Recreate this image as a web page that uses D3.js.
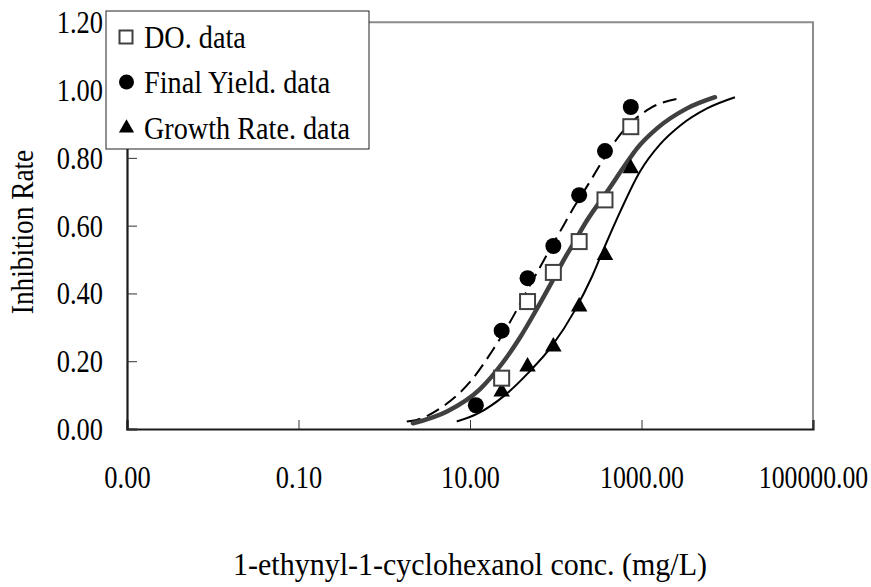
<!DOCTYPE html>
<html>
<head>
<meta charset="utf-8">
<script src="https://cdn.jsdelivr.net/npm/d3@7"></script>
<style>
  html, body { margin: 0; padding: 0; background: #fff; }
  svg { display: block; }
  text { font-family: "Liberation Serif", "Times New Roman", serif; fill: #000; }
</style>
</head>
<body>
<svg id="chart" width="871" height="587"></svg>
<script>
// ---------- data ----------
const xTicks = [0.001, 0.1, 10, 1000, 100000];
const yTicks = [0, 0.2, 0.4, 0.6, 0.8, 1.0, 1.2];

const concFY = [11.7, 23.4, 46.9, 93.75, 187.5, 375, 750];
const finalYield = [0.07, 0.29, 0.445, 0.54, 0.69, 0.82, 0.95];

const concDO = [23.4, 46.9, 93.75, 187.5, 375, 750];
const doData = [0.15, 0.376, 0.462, 0.553, 0.676, 0.892];

const concGR = [23.4, 46.9, 93.75, 187.5, 375, 750];
const growthRate = [0.11, 0.184, 0.243, 0.361, 0.513, 0.769];

// fitted curves
const fitFYConc = [1.83, 2.39, 5.11, 10.5, 17.9, 28.0, 47.9, 78.4, 112, 160, 251, 356, 561, 1256, 2812];
const fitFYRate = [0.022, 0.027, 0.071, 0.145, 0.228, 0.307, 0.415, 0.513, 0.582, 0.651, 0.730, 0.794, 0.868, 0.946, 0.976];

const fitDOConc = [2.16, 5.39, 13.1, 24.3, 38.3, 60.4, 92.9, 128, 159, 231, 396, 678, 887, 1517, 3396, 7194];
const fitDORate = [0.017, 0.052, 0.118, 0.197, 0.27, 0.355, 0.44, 0.505, 0.545, 0.615, 0.70, 0.787, 0.828, 0.887, 0.946, 0.979];

const fitGRConc = [7.0, 12.4, 25.6, 47.5, 90.4, 167, 265, 375, 561, 961, 1643, 2812, 5808, 12300];
const fitGRRate = [0.022, 0.046, 0.10, 0.165, 0.245, 0.35, 0.45, 0.54, 0.64, 0.76, 0.84, 0.895, 0.946, 0.979];

const legendLabels = ["DO. data", "Final Yield. data", "Growth Rate. data"];
const xTitle = "1-ethynyl-1-cyclohexanol conc. (mg/L)";
const yTitle = "Inhibition Rate";

// ---------- layout ----------
const svg = d3.select("#chart");
const L = 127, R = 813, T = 22.3, B = 429;
const x = d3.scaleLog().domain([0.001, 100000]).range([L, R]);
const y = d3.scaleLinear().domain([0, 1.2]).range([B, T]);
const fmt = d3.format(".2f");
const FS = 31;

// narrow number face: digit and point advance widths of the reference
const numWidth = s => s.replace(/[^0-9]/g, "").length * 12.6 + 8.5;

// horizontally condense a text element to a target width (keeps its anchor point)
function condense(node, target, anchorX) {
  const w = node.getComputedTextLength();
  const sx = target / w;
  node.setAttribute("x", anchorX / sx);
  node.setAttribute("transform", `scale(${sx},1)`);
}

// plot border (top/right gray)
svg.append("path")
  .attr("d", `M${L},${T}H${R}V${B}`)
  .attr("fill", "none").attr("stroke", "#8c8c8c").attr("stroke-width", 2);

// x axis
const xAxis = svg.append("g").attr("transform", `translate(0,${B})`)
  .call(d3.axisBottom(x).tickValues(xTicks).tickFormat(fmt).tickSize(-9).tickPadding(0));
xAxis.attr("font-family", null).attr("font-size", null);
xAxis.select(".domain").attr("stroke", "#1a1a1a").attr("stroke-width", 2.2);
xAxis.selectAll(".tick line").attr("stroke", "#333").attr("stroke-width", 1);
xAxis.selectAll(".tick text").attr("font-size", FS)
  .attr("fill", "#000").attr("y", 59).attr("dy", 0)
  .each(function () { condense(this, numWidth(this.textContent), 0); });

// y axis
const yAxis = svg.append("g").attr("transform", `translate(${L},0)`)
  .call(d3.axisLeft(y).tickValues(yTicks).tickFormat(fmt).tickSize(-10).tickPadding(0));
yAxis.attr("font-family", null).attr("font-size", null);
yAxis.select(".domain").attr("stroke", "#1a1a1a").attr("stroke-width", 2.2);
yAxis.selectAll(".tick line").attr("stroke", "#333").attr("stroke-width", 1);
yAxis.selectAll(".tick text").attr("font-size", FS)
  .attr("fill", "#000").attr("dy", 10.5)
  .each(function () { condense(this, numWidth(this.textContent), -24); });

// axis titles
svg.append("text").attr("x", 470).attr("y", 575).attr("text-anchor", "middle")
  .attr("font-size", FS).attr("textLength", 474).attr("lengthAdjust", "spacingAndGlyphs")
  .text(xTitle);
svg.append("text").attr("class", "sq").attr("data-k", 0.88)
  .attr("transform", "translate(33,232) rotate(-90)")
  .attr("text-anchor", "middle").attr("font-size", FS).text(yTitle);

// fitted curves
const line = d3.line().x(d => x(d[0])).y(d => y(d[1])).curve(d3.curveMonotoneX);
const zip = (a, b) => a.map((v, i) => [v, b[i]]);

svg.append("path").datum(zip(fitGRConc, fitGRRate)).attr("d", line)
  .attr("fill", "none").attr("stroke", "#000").attr("stroke-width", 2);
svg.append("path").datum(zip(fitFYConc, fitFYRate)).attr("d", line)
  .attr("fill", "none").attr("stroke", "#000").attr("stroke-width", 2)
  .attr("stroke-dasharray", "14,7");
svg.append("path").datum(zip(fitDOConc, fitDORate)).attr("d", line)
  .attr("fill", "none").attr("stroke", "#404040").attr("stroke-width", 4.5)
  .attr("stroke-linecap", "round");

// markers
const tri = d3.symbol().type(d3.symbolTriangle).size(118);
svg.append("g").selectAll("path").data(zip(concGR, growthRate)).join("path")
  .attr("d", tri).attr("transform", d => `translate(${x(d[0])},${y(d[1])})`)
  .attr("fill", "#000");

svg.append("g").selectAll("circle").data(zip(concFY, finalYield)).join("circle")
  .attr("cx", d => x(d[0])).attr("cy", d => y(d[1])).attr("r", 8).attr("fill", "#000");

svg.append("g").selectAll("rect").data(zip(concDO, doData)).join("rect")
  .attr("x", d => x(d[0]) - 7.5).attr("y", d => y(d[1]) - 7.5)
  .attr("width", 15).attr("height", 15)
  .attr("fill", "#fff").attr("stroke", "#404040").attr("stroke-width", 2);

// legend
const lg = svg.append("g");
lg.append("rect").attr("x", 106).attr("y", 11).attr("width", 263).attr("height", 138)
  .attr("fill", "#fff").attr("stroke", "#222").attr("stroke-width", 1);
const rowY = [37, 82, 128];
lg.append("rect").attr("x", 119.5).attr("y", rowY[0] - 6.5).attr("width", 13).attr("height", 13)
  .attr("fill", "#fff").attr("stroke", "#404040").attr("stroke-width", 2);
lg.append("circle").attr("cx", 126.5).attr("cy", rowY[1]).attr("r", 7.5).attr("fill", "#000");
lg.append("path").attr("d", d3.symbol().type(d3.symbolTriangle).size(100))
  .attr("transform", `translate(126.5,${rowY[2]})`).attr("fill", "#000");
lg.selectAll("text.lbl").data(legendLabels).join("text").attr("class", "lbl sq")
  .attr("data-k", 0.91)
  .attr("x", 144).attr("y", (d, i) => rowY[i] + 11).attr("font-size", FS).text(d => d);

// narrow the serif glyphs to resemble the reference's condensed face
svg.selectAll("text.sq").each(function () {
  const k = +this.getAttribute("data-k");
  const w = this.getComputedTextLength();
  this.setAttribute("textLength", (w * k).toFixed(1));
  this.setAttribute("lengthAdjust", "spacingAndGlyphs");
});
</script>
</body>
</html>
